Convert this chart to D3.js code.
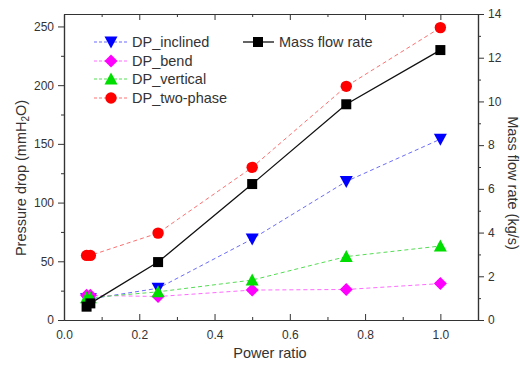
<!DOCTYPE html>
<html>
<head>
<meta charset="utf-8">
<script src="https://cdn.jsdelivr.net/npm/d3@7"></script>
<style>
  body { margin: 0; background: #fff; }
  text { font-family: "Liberation Sans", Arial, sans-serif; fill: #333; }
</style>
</head>
<body>
<svg width="520" height="365"></svg>
<script>
const svg = d3.select("svg");

// data
const power = [0.06, 0.07, 0.25, 0.5, 0.75, 1.0];
const dpInclined = [18, 18, 27, 69, 118, 154];
const dpBend = [21, 21, 20, 25.5, 26, 31];
const dpVertical = [19, 19, 24, 34, 54, 63];
const dpTwoPhase = [55, 55, 74, 130, 199, 249];
const massFlow = [0.61, 0.76, 2.65, 6.22, 9.87, 12.35];

const xTicks = [0, 0.2, 0.4, 0.6, 0.8, 1.0];
const yTicks = [0, 50, 100, 150, 200, 250];
const y2Ticks = [0, 2, 4, 6, 8, 10, 12, 14];

const plot = { left: 64, right: 478, top: 14, bottom: 320 };

const x = d3.scaleLinear().domain([0, 1.1]).range([plot.left, plot.right]);
const y = d3.scaleLinear().domain([0, 260.6]).range([plot.bottom, plot.top]);
const y2 = d3.scaleLinear().domain([0, 14]).range([plot.bottom, plot.top]);

const series = [
  { name: "DP_inclined", values: dpInclined, color: "#0000ff", line: "#6b6bff", symbol: "down" },
  { name: "DP_bend", values: dpBend, color: "#ff00ff", line: "#ff6bff", symbol: "diamond" },
  { name: "DP_vertical", values: dpVertical, color: "#00dd00", line: "#55dd55", symbol: "up" },
  { name: "DP_two-phase", values: dpTwoPhase, color: "#ff0000", line: "#ff7070", symbol: "circle" }
];

function marker(g, type, color) {
  if (type === "down") {
    g.append("path").attr("d", "M-6.5,-5.5L6.5,-5.5L0,6.5Z").attr("fill", color);
  } else if (type === "up") {
    g.append("path").attr("d", "M-6.5,5.5L6.5,5.5L0,-6.5Z").attr("fill", color);
  } else if (type === "diamond") {
    g.append("path").attr("d", "M0,-6.5L6.5,0L0,6.5L-6.5,0Z").attr("fill", color);
  } else if (type === "circle") {
    g.append("circle").attr("r", 5.7).attr("fill", color);
  } else if (type === "square") {
    g.append("rect").attr("x", -5).attr("y", -5).attr("width", 10).attr("height", 10).attr("fill", color);
  }
}

// axes
const axisColor = "#333";
function styleAxis(g) {
  g.selectAll("path").attr("stroke", axisColor).attr("stroke-width", 1.2);
  g.selectAll("line").attr("stroke", axisColor);
  g.selectAll("text").attr("font-size", 12).attr("fill", "#333");
}

svg.append("g")
  .attr("transform", `translate(0,${plot.bottom})`)
  .call(d3.axisBottom(x).tickValues(xTicks).tickFormat(d3.format(".1f")).tickSizeInner(-6).tickSizeOuter(0).tickPadding(10))
  .call(styleAxis);
svg.append("g")
  .attr("transform", `translate(0,${plot.bottom})`)
  .call(d3.axisBottom(x).tickValues([0.1, 0.3, 0.5, 0.7, 0.9]).tickFormat("").tickSizeInner(-3).tickSizeOuter(0))
  .call(styleAxis);
svg.append("g")
  .attr("transform", `translate(0,${plot.top})`)
  .call(d3.axisTop(x).tickValues(xTicks).tickFormat("").tickSizeInner(-6).tickSizeOuter(0))
  .call(styleAxis);
svg.append("g")
  .attr("transform", `translate(0,${plot.top})`)
  .call(d3.axisTop(x).tickValues([0.1, 0.3, 0.5, 0.7, 0.9]).tickFormat("").tickSizeInner(-3).tickSizeOuter(0))
  .call(styleAxis);

svg.append("g")
  .attr("transform", `translate(${plot.left},0)`)
  .call(d3.axisLeft(y).tickValues(yTicks).tickSizeInner(6).tickSizeOuter(0).tickPadding(4))
  .call(styleAxis);
svg.append("g")
  .attr("transform", `translate(${plot.left},0)`)
  .call(d3.axisLeft(y).tickValues([25, 75, 125, 175, 225]).tickFormat("").tickSizeInner(3).tickSizeOuter(0))
  .call(styleAxis);

svg.append("g")
  .attr("transform", `translate(${plot.right},0)`)
  .call(d3.axisRight(y2).tickValues(y2Ticks).tickSizeInner(6).tickSizeOuter(0).tickPadding(4))
  .call(styleAxis);
svg.append("g")
  .attr("transform", `translate(${plot.right},0)`)
  .call(d3.axisRight(y2).tickValues([1, 3, 5, 7, 9, 11, 13]).tickFormat("").tickSizeInner(3).tickSizeOuter(0))
  .call(styleAxis);

// axis titles
svg.append("text")
  .attr("x", 270).attr("y", 358)
  .attr("text-anchor", "middle").attr("font-size", 14.5)
  .text("Power ratio");

const yl = svg.append("text")
  .attr("transform", `translate(26,178) rotate(-90)`)
  .attr("text-anchor", "middle").attr("font-size", 14.5);
yl.append("tspan").text("Pressure drop (mmH");
yl.append("tspan").attr("font-size", 10).attr("dy", 3).text("2");
yl.append("tspan").attr("dy", -3).text("O)");

svg.append("text")
  .attr("transform", `translate(508,183) rotate(90)`)
  .attr("text-anchor", "middle").attr("font-size", 14.5)
  .text("Mass flow rate (kg/s)");

// dashed series
series.forEach(s => {
  const pts = power.map((p, i) => [p, s.values[i]]);
  svg.append("path")
    .datum(pts)
    .attr("d", d3.line().x(d => x(d[0])).y(d => y(d[1])))
    .attr("fill", "none")
    .attr("stroke", s.line)
    .attr("stroke-width", 1)
    .attr("stroke-dasharray", "4,3");
});

// mass flow line
const mfPts = power.map((p, i) => [p, massFlow[i]]);
svg.append("path")
  .datum(mfPts)
  .attr("d", d3.line().x(d => x(d[0])).y(d => y2(d[1])))
  .attr("fill", "none")
  .attr("stroke", "#111")
  .attr("stroke-width", 1.3);

// markers
series.forEach(s => {
  power.forEach((p, i) => {
    const g = svg.append("g").attr("transform", `translate(${x(p)},${y(s.values[i])})`);
    marker(g, s.symbol, s.color);
  });
});
mfPts.forEach(d => {
  const g = svg.append("g").attr("transform", `translate(${x(d[0])},${y2(d[1])})`);
  marker(g, "square", "#000");
});

// legend
const legRows = [42, 61, 79, 98];
series.forEach((s, i) => {
  const ly = legRows[i];
  svg.append("line")
    .attr("x1", 94).attr("x2", 128).attr("y1", ly).attr("y2", ly)
    .attr("stroke", s.line).attr("stroke-dasharray", "3,2");
  const g = svg.append("g").attr("transform", `translate(111,${ly})`);
  marker(g, s.symbol, s.color);
  svg.append("text")
    .attr("x", 132).attr("y", ly + 5)
    .attr("font-size", 14.5)
    .text(s.name);
});
svg.append("line")
  .attr("x1", 243).attr("x2", 274).attr("y1", 42).attr("y2", 42)
  .attr("stroke", "#111").attr("stroke-width", 1.3);
marker(svg.append("g").attr("transform", "translate(258,42)"), "square", "#000");
svg.append("text")
  .attr("x", 279).attr("y", 47)
  .attr("font-size", 14.5)
  .text("Mass flow rate");
</script>
</body>
</html>
